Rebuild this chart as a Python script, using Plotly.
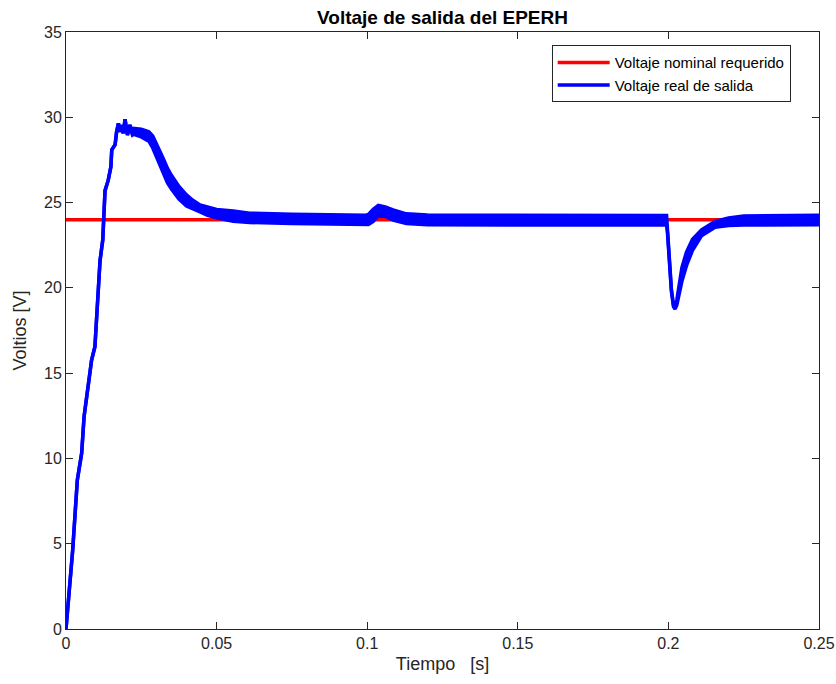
import plotly.graph_objects as go

# Reference (nominal) output voltage
nominal_t = [0.0, 0.25]
nominal_v = [24.0, 24.0]

# Start-up transient of the converter output (single trace, no visible ripple yet)
startup_t = [0.0, 0.00222, 0.00376, 0.0052, 0.0060, 0.0077, 0.0085, 0.0096, 0.0104,
             0.0113, 0.0122, 0.01295, 0.0140, 0.0149, 0.0152, 0.0163, 0.0168, 0.0174,
             0.0179, 0.0185, 0.0190, 0.0196, 0.0204, 0.0212, 0.0221]
startup_v = [0.0, 4.63, 8.74, 10.3, 12.45, 15.0, 15.77, 16.55, 19.3,
             21.6, 22.8, 25.7, 26.3, 27.1, 28.1, 28.4, 29.15, 29.65,
             29.15, 29.55, 29.06, 29.88, 28.96, 29.55, 28.96]

# Switching-ripple envelope of the output voltage after start-up
ripple_t = [0.0221, 0.0225, 0.0250, 0.0275, 0.0288, 0.0300, 0.0312, 0.0325, 0.0337,
            0.0350, 0.0362, 0.0375, 0.0400, 0.0420, 0.0445, 0.0470, 0.0500, 0.0555,
            0.0610, 0.0750, 0.0900, 0.0995, 0.1004, 0.1020, 0.1037, 0.1060, 0.1086,
            0.1130, 0.1200, 0.1500, 0.1994, 0.1997, 0.2003, 0.2010, 0.2017, 0.2022,
            0.2028, 0.2035, 0.2045, 0.2060, 0.2080, 0.2110, 0.2155, 0.2200, 0.2250,
            0.2500]
ripple_hi = [28.96, 29.35, 29.30, 29.15, 28.90, 28.50, 28.00, 27.50, 27.00,
             26.60, 26.25, 25.95, 25.45, 25.15, 24.86, 24.72, 24.60, 24.50,
             24.38, 24.31, 24.27, 24.26, 24.30, 24.60, 24.83, 24.75, 24.57,
             24.34, 24.27, 24.24, 24.24, 23.40, 21.60, 19.90, 18.95, 18.80,
             19.30, 20.20, 21.20, 22.10, 22.85, 23.40, 23.90, 24.10, 24.22,
             24.26]
ripple_lo = [28.96, 29.00, 28.85, 28.60, 28.20, 27.70, 27.15, 26.60, 26.15,
             25.80, 25.50, 25.20, 24.80, 24.62, 24.45, 24.25, 24.10, 23.90,
             23.83, 23.78, 23.72, 23.70, 23.72, 23.90, 24.22, 24.20, 23.97,
             23.77, 23.70, 23.68, 23.68, 23.20, 21.50, 19.80, 18.90, 18.75,
             19.00, 19.60, 20.40, 21.30, 22.20, 23.05, 23.55, 23.65, 23.68,
             23.70]

x_ticks = [0, 0.05, 0.1, 0.15, 0.2, 0.25]
x_tick_text = ["0", "0.05", "0.1", "0.15", "0.2", "0.25"]
y_ticks = [0, 5, 10, 15, 20, 25, 30, 35]

RED = "#ff0000"
BLUE = "#0000ff"
AXIS = "#262626"
FONT = "Liberation Sans, Arial, sans-serif"

lo_t = startup_t + ripple_t[1:]
lo_v = startup_v + ripple_lo[1:]
hi_t = startup_t + ripple_t[1:]
hi_v = startup_v + ripple_hi[1:]

fig = go.Figure()
fig.add_trace(go.Scatter(x=nominal_t, y=nominal_v, mode="lines",
                         line=dict(color=RED, width=3.5),
                         name="Voltaje nominal requerido"))
fig.add_trace(go.Scatter(x=lo_t, y=lo_v, mode="lines",
                         line=dict(color=BLUE, width=3.5),
                         name="Voltaje real de salida"))
fig.add_trace(go.Scatter(x=hi_t, y=hi_v, mode="lines", fill="tonexty",
                         fillcolor=BLUE, line=dict(color=BLUE, width=3.5),
                         showlegend=False, hoverinfo="skip"))

axis_common = dict(
    showgrid=False, zeroline=False, showline=True, mirror="ticks",
    linecolor=AXIS, linewidth=1, ticks="inside", ticklen=7, tickwidth=1,
    tickcolor=AXIS, tickfont=dict(family=FONT, size=16, color=AXIS),
    automargin=False,
)

fig.update_layout(
    width=836, height=684,
    margin=dict(l=66, r=17, t=32, b=55, autoexpand=False),
    paper_bgcolor="white", plot_bgcolor="white",
    title=dict(text="<b>Voltaje de salida del EPERH</b>", x=0.5, xanchor="center",
               xref="paper", y=1 - 17 / 684, yanchor="middle",
               font=dict(family=FONT, size=19, color="black")),
    xaxis=dict(range=[0, 0.25], tickvals=x_ticks, ticktext=x_tick_text,
               title=dict(text="Tiempo\u00a0\u00a0\u00a0[s]", standoff=6,
                          font=dict(family=FONT, size=18, color=AXIS)),
               **axis_common),
    yaxis=dict(range=[0, 35], tickvals=y_ticks,
               title=dict(text="Voltios [V]", standoff=12,
                          font=dict(family=FONT, size=18, color=AXIS)),
               **axis_common),
    legend=dict(x=0.645, xanchor="left", y=0.978, yanchor="top",
                bgcolor="white", bordercolor=AXIS, borderwidth=1,
                itemwidth=52, tracegroupgap=0, traceorder="normal",
                font=dict(family=FONT, size=15, color="black")),
    showlegend=True,
)

fig.write_html("out.html")
